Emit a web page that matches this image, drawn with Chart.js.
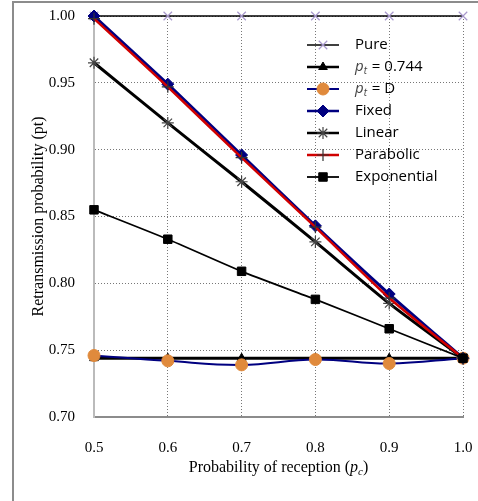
<!DOCTYPE html>
<html>
<head>
<meta charset="utf-8">
<script src="https://cdn.jsdelivr.net/npm/chart.js@4/dist/chart.umd.min.js"></script>
<style>
  html, body { margin: 0; padding: 0; background: #fff; }
  #wrap { width: 478px; height: 501px; }
</style>
</head>
<body>
<div id="wrap"><canvas id="chart" width="478" height="501"></canvas></div>
<script>
// Datos
const pcValues = [0.5, 0.6, 0.7, 0.8, 0.9, 1.0];
const pureVals = [1.0, 1.0, 1.0, 1.0, 1.0, 1.0];
const ptConstVals = [0.744, 0.744, 0.744, 0.744, 0.744, 0.744];
const ptDVals = [0.746, 0.742, 0.739, 0.743, 0.740, 0.744];
const fixedVals = [1.0, 0.949, 0.896, 0.843, 0.792, 0.744];
const linearVals = [0.965, 0.920, 0.876, 0.831, 0.785, 0.744];
const parabolicVals = [0.998, 0.947, 0.894, 0.842, 0.789, 0.744];
const expVals = [0.855, 0.833, 0.809, 0.788, 0.766, 0.744];
const xTicks = [0.5, 0.6, 0.7, 0.8, 0.9, 1.0];
const yTicks = [0.70, 0.75, 0.80, 0.85, 0.90, 0.95, 1.00];

const toPoints = (vals) => vals.map((v, i) => ({ x: pcValues[i], y: v }));

// etiquetas de leyenda: [texto normal] o [p italica, subindice, resto]
const seriesDefs = [
  { label: "Pure", data: pureVals, line: "#000", lw: 1.5, style: "crossRot", pc: "#a898cc", pb: "#a898cc", r: 6, bw: 1.2, order: 7 },
  { label: "p_t = 0.744", rich: ["p", "t", " = 0.744"], data: ptConstVals, line: "#000", lw: 3, style: "triangle", pc: "#000", pb: "#000", r: 5, bw: 1, order: 6 },
  { label: "p_t = D", rich: ["p", "t", " = D"], data: ptDVals, line: "#000080", lw: 2, style: "circle", pc: "#e08a3c", pb: "#e08a3c", r: 6, bw: 1, order: 5, tension: 0.4 },
  { label: "Fixed", data: fixedVals, line: "#000080", lw: 3, style: "rectRot", pc: "#000080", pb: "#000080", r: 6, bw: 1, order: 4 },
  { label: "Linear", data: linearVals, line: "#000", lw: 3, style: "star", pc: "#444", pb: "#444", r: 6, bw: 1.2, order: 3 },
  { label: "Parabolic", data: parabolicVals, line: "#d00000", lw: 2.5, style: "cross", pc: "#333", pb: "#333", r: 6, bw: 1.2, order: 2 },
  { label: "Exponential", data: expVals, line: "#000", lw: 1.8, style: "rect", pc: "#000", pb: "#000", r: 6, bw: 1, order: 1 },
];

const datasets = seriesDefs.map((s) => ({
  label: s.label,
  data: toPoints(s.data),
  borderColor: s.line,
  borderWidth: s.lw,
  pointStyle: s.style,
  pointRadius: s.r,
  pointBackgroundColor: s.pc,
  pointBorderColor: s.pb,
  pointBorderWidth: s.bw,
  tension: s.tension || 0.2,
  order: s.order,
  clip: false,
}));

// Marco, titulos y leyenda dibujados a mano (texto con subindices)
const extrasPlugin = {
  id: "extras",
  afterDraw(chart) {
    const ctx = chart.ctx;
    const area = chart.chartArea;
    ctx.save();

    // marco exterior
    ctx.strokeStyle = "#8c8c8c";
    ctx.lineWidth = 2;
    ctx.beginPath();
    ctx.moveTo(13, 501);
    ctx.lineTo(13, 2);
    ctx.lineTo(478, 2);
    ctx.stroke();

    // titulo eje X
    ctx.fillStyle = "#000";
    ctx.textBaseline = "alphabetic";
    const serif = "'Liberation Serif', 'Times New Roman', serif";
    const p1 = "Probability of reception (";
    ctx.font = "16px " + serif;
    const w1 = ctx.measureText(p1).width;
    ctx.font = "italic 16px " + serif;
    const wp = ctx.measureText("p").width;
    ctx.font = "italic 11px " + serif;
    const wc = ctx.measureText("c").width;
    ctx.font = "16px " + serif;
    const w3 = ctx.measureText(")").width;
    let x = (area.left + area.right) / 2 - (w1 + wp + wc + w3) / 2;
    const yb = 472;
    ctx.fillText(p1, x, yb); x += w1;
    ctx.font = "italic 16px " + serif;
    ctx.fillText("p", x, yb); x += wp;
    ctx.font = "italic 11px " + serif;
    ctx.fillText("c", x, yb + 3); x += wc;
    ctx.font = "16px " + serif;
    ctx.fillText(")", x, yb);

    // titulo eje Y
    ctx.save();
    ctx.translate(43, (area.top + area.bottom) / 2);
    ctx.rotate(-Math.PI / 2);
    ctx.textAlign = "center";
    ctx.font = "16px " + serif;
    ctx.fillText("Retransmission probability (pt)", 0, 0);
    ctx.restore();

    // leyenda
    const sans = "'Open Sans', 'Noto Sans', sans-serif";
    const lx0 = 307, lx1 = 339, tx = 355;
    let ly = 45;
    seriesDefs.forEach((s) => {
      ctx.strokeStyle = s.line;
      ctx.lineWidth = Math.min(s.lw, 2.5);
      ctx.beginPath();
      ctx.moveTo(lx0, ly);
      ctx.lineTo(lx1, ly);
      ctx.stroke();
      ctx.fillStyle = s.pc;
      ctx.strokeStyle = s.pb;
      ctx.lineWidth = s.bw;
      Chart.helpers.drawPoint(ctx, { pointStyle: s.style, radius: s.r, borderWidth: s.bw }, (lx0 + lx1) / 2, ly);
      ctx.fillStyle = "#000";
      ctx.textBaseline = "middle";
      ctx.textAlign = "left";
      if (s.rich) {
        let xx = tx;
        ctx.font = "italic 15px " + sans;
        ctx.fillStyle = "#444";
        ctx.fillText(s.rich[0], xx, ly); xx += ctx.measureText(s.rich[0]).width;
        ctx.font = "italic 10px " + sans;
        ctx.fillText(s.rich[1], xx, ly + 4); xx += ctx.measureText(s.rich[1]).width + 1;
        ctx.fillStyle = "#000";
        ctx.font = "15px " + sans;
        ctx.fillText(s.rich[2], xx, ly);
      } else {
        ctx.font = "15px " + sans;
        ctx.fillText(s.label, tx, ly);
      }
      ly += 22;
    });
    ctx.restore();
  },
};

const ctx1 = document.getElementById("chart").getContext("2d");
const retxChart = new Chart(ctx1, {
  type: "line",
  data: { datasets: datasets },
  options: {
    responsive: false,
    animation: false,
    layout: { padding: { top: 16, right: 15, left: 0, bottom: 0 } },
    plugins: {
      legend: { display: false },
      tooltip: { enabled: false },
    },
    scales: {
      x: {
        type: "linear",
        min: 0.5,
        max: 1.0,
        afterFit: (s) => { s.height = 84; s.paddingLeft = 0; s.paddingRight = 0; },
        afterBuildTicks: (s) => { s.ticks = xTicks.map((v) => ({ value: v })); },
        ticks: {
          padding: 22,
          color: "#000",
          font: { family: "'Liberation Serif', 'Times New Roman', serif", size: 15 },
          callback: (v) => Number(v).toFixed(1),
        },
        grid: { color: "#777", lineWidth: 1, drawTicks: false, tickLength: 0 },
        border: { color: "#8c8c8c", width: 2, dash: [1, 2] },
      },
      y: {
        type: "linear",
        min: 0.70,
        max: 1.00,
        afterFit: (s) => { s.width = 94; s.paddingTop = 0; s.paddingBottom = 0; },
        afterBuildTicks: (s) => { s.ticks = yTicks.map((v) => ({ value: v })); },
        ticks: {
          padding: 19,
          color: "#000",
          font: { family: "'Liberation Serif', 'Times New Roman', serif", size: 15 },
          callback: (v) => Number(v).toFixed(2),
        },
        grid: { color: "#777", lineWidth: 1, drawTicks: false, tickLength: 0 },
        border: { color: "#bbbbbb", width: 2, dash: [1, 2] },
      },
    },
  },
  plugins: [extrasPlugin],
});
</script>
</body>
</html>
